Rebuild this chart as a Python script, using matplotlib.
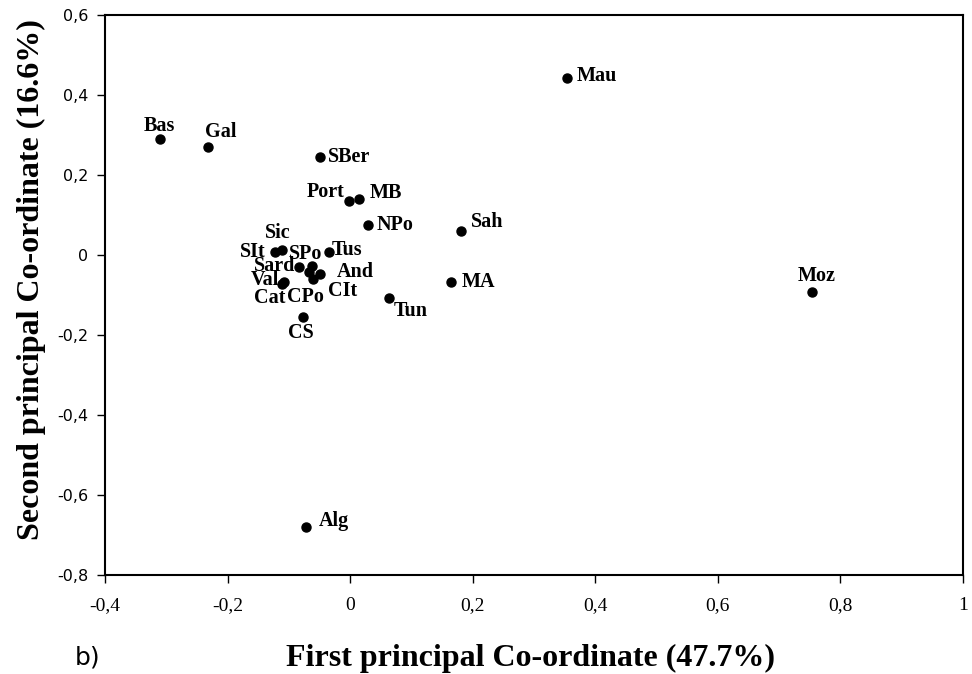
import matplotlib
matplotlib.use("Agg")
import matplotlib.pyplot as plt
from matplotlib.ticker import FixedLocator, FuncFormatter

# Data
labels = ["Bas", "Gal", "Mau", "SBer", "Port", "MB", "NPo", "Sah", "MA", "Tun",
          "Moz", "Alg", "CS", "SIt", "Sic", "Tus", "Sard", "SPo", "CPo", "And",
          "CIt", "Val", "Cat"]
x_vals = [-0.311, -0.232, 0.354, -0.050, -0.002, 0.015, 0.029, 0.181, 0.164, 0.063,
          0.753, -0.072, -0.077, -0.122, -0.112, -0.034, -0.083, -0.062, -0.067, -0.050,
          -0.060, -0.108, -0.112]
y_vals = [0.291, 0.269, 0.443, 0.246, 0.135, 0.140, 0.076, 0.059, -0.068, -0.108,
          -0.093, -0.679, -0.155, 0.008, 0.013, 0.007, -0.029, -0.028, -0.043, -0.047,
          -0.060, -0.067, -0.072]
x_ticks = [-0.4, -0.2, 0, 0.2, 0.4, 0.6, 0.8, 1]
y_ticks = [-0.8, -0.6, -0.4, -0.2, 0, 0.2, 0.4, 0.6]

# label placement (pixel offsets, alignment)
label_pos = {
    "Bas": (0, 13, "center"), "Gal": (13, 15, "center"), "Mau": (10, 2, "left"),
    "SBer": (8, 0, "left"), "Port": (-4, 9, "right"), "MB": (10, 6, "left"),
    "NPo": (9, 0, "left"), "Sah": (10, 9, "left"), "MA": (11, 0, "left"),
    "Tun": (5, -13, "left"), "Moz": (5, 16, "center"), "Alg": (13, 6, "left"),
    "CS": (-2, -16, "center"), "SIt": (-10, 0, "right"), "Sic": (-4, 17, "center"),
    "SPo": (-7, 12, "center"), "Tus": (2, 2, "left"), "Sard": (-4, 1, "right"),
    "And": (17, 2, "left"), "CIt": (15, -12, "left"), "Val": (-5, 2, "right"),
    "Cat": (-12, -14, "center"), "CPo": (-4, -25, "center"),
}

def fmt(v, pos):
    if abs(v) < 1e-9:
        return "0"
    s = ("%.1f" % v).rstrip("0").rstrip(".")
    return s.replace(".", ",")

fig = plt.figure(figsize=(9.72, 6.74), dpi=100)
ax = fig.add_axes([105/972, 1 - 575/674, (963 - 105)/972, (575 - 15)/674])

ax.plot(x_vals, y_vals, linestyle="none", marker="o", color="black", markersize=6.5)

for lab, x, y in zip(labels, x_vals, y_vals):
    dx, dy, ha = label_pos[lab]
    ax.annotate(lab, (x, y), xytext=(dx, dy), textcoords="offset pixels",
                ha=ha, va="center", fontsize=14.5, fontweight="bold",
                family="Liberation Serif")

ax.set_xlim(-0.4, 1.0)
ax.set_ylim(-0.8, 0.6)
ax.xaxis.set_major_locator(FixedLocator(x_ticks))
ax.yaxis.set_major_locator(FixedLocator(y_ticks))
ax.xaxis.set_major_formatter(FuncFormatter(fmt))
ax.yaxis.set_major_formatter(FuncFormatter(fmt))

for sp in ax.spines.values():
    sp.set_linewidth(1.5)
    sp.set_color("black")

ax.tick_params(axis="both", direction="out", length=6, width=1, color="black")
ax.tick_params(axis="x", pad=10)
ax.tick_params(axis="y", pad=6)
for t in ax.get_xticklabels():
    t.set_fontfamily("Liberation Serif")
    t.set_fontsize(14)
for t in ax.get_yticklabels():
    t.set_fontfamily("DejaVu Sans")
    t.set_fontsize(11.5)

ax.set_xlabel("First principal Co-ordinate (47.7%)", fontsize=23, fontweight="bold",
              family="Liberation Serif")
ax.set_ylabel("Second principal Co-ordinate (16.6%)", fontsize=23, fontweight="bold",
              family="Liberation Serif")
ax.xaxis.set_label_coords((530 - 105) / 858, (575 - 644) / 560)
ax.yaxis.set_label_coords((46 - 105) / 858, (575 - 280) / 560)

fig.text(75/972, 1 - 657/674, "b)", fontsize=18, family="DejaVu Sans", va="center")

fig.savefig("out.png", dpi=100, facecolor="white")
